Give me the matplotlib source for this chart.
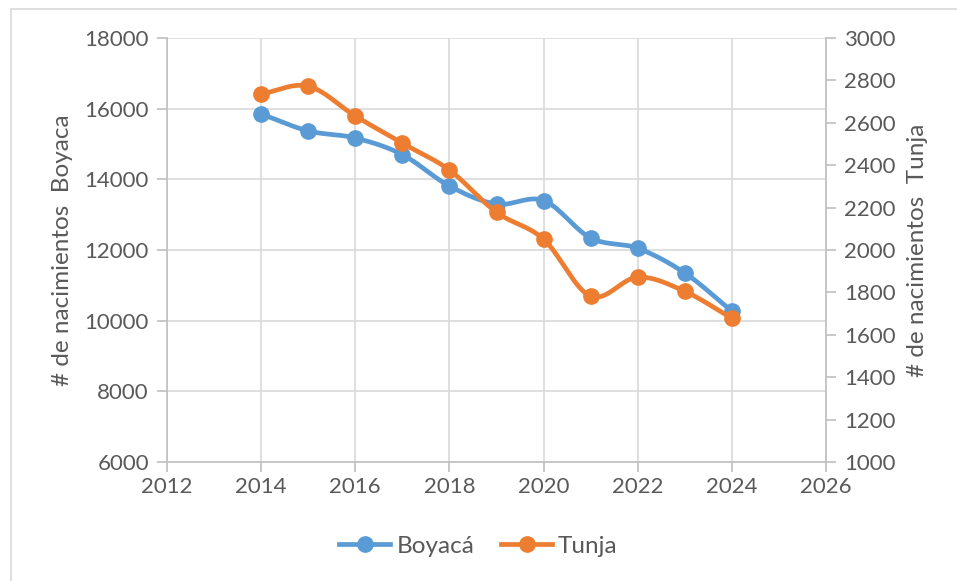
import numpy as np
import matplotlib.pyplot as plt
from matplotlib.lines import Line2D
from matplotlib.patches import Rectangle

years = [2014, 2015, 2016, 2017, 2018, 2019, 2020, 2021, 2022, 2023, 2024]
boyaca = [15850, 15370, 15170, 14700, 13810, 13300, 13400, 12340, 12050, 11350, 10270]
tunja = [2736, 2773, 2632, 2504, 2377, 2178, 2051, 1782, 1872, 1805, 1678]

blue = '#5b9bd5'
orange = '#ed7d31'
grey = '#595959'
axc = '#bfbfbf'
gridc = '#d9d9d9'

plt.rcParams['font.family'] = ['Lato', 'DejaVu Sans']
fs = 16
lfs = 17.5


def smooth(x, y, n=20):
    # Catmull-Rom style smoothing, similar to Excel's smoothed line
    x = np.asarray(x, float)
    y = np.asarray(y, float)
    px = np.concatenate([[2 * x[0] - x[1]], x, [2 * x[-1] - x[-2]]])
    py = np.concatenate([[2 * y[0] - y[1]], y, [2 * y[-1] - y[-2]]])
    t = np.linspace(0, 1, n)
    xs, ys = [], []
    for i in range(1, len(px) - 2):
        for p, out in ((px, xs), (py, ys)):
            p0, p1, p2, p3 = p[i - 1], p[i], p[i + 1], p[i + 2]
            b1 = p1 + (p2 - p0) / 6
            b2 = p2 - (p3 - p1) / 6
            out.extend((1 - t) ** 3 * p1 + 3 * (1 - t) ** 2 * t * b1
                       + 3 * (1 - t) * t ** 2 * b2 + t ** 3 * p2)
    return np.array(xs), np.array(ys)


fig = plt.figure(figsize=(9.57, 5.81), dpi=100)
ax = fig.add_axes([167 / 957, 1 - 462 / 581, (826 - 167) / 957, (462 - 38) / 581])
ax2 = ax.twinx()

ax.set_xlim(2012, 2026)
ax.set_ylim(6000, 18000)
ax2.set_ylim(1000, 3000)
ax.set_xticks(range(2012, 2027, 2))
ax.set_yticks(range(6000, 18001, 2000))
ax2.set_yticks(range(1000, 3001, 200))

ax.grid(True, color=gridc, lw=1.2)
ax.set_axisbelow(True)

for a in (ax, ax2):
    a.spines['top'].set_visible(False)
    for s in ('left', 'right', 'bottom'):
        a.spines[s].set_color(axc)
        a.spines[s].set_linewidth(1.2)
    a.tick_params(colors=axc, labelcolor=grey, labelsize=fs, length=7, width=1.2)
ax.spines['right'].set_visible(False)
ax2.spines['left'].set_visible(False)
ax2.spines['bottom'].set_visible(False)
ax.tick_params(axis='x', pad=4)
ax.tick_params(axis='y', pad=6)
ax2.tick_params(axis='y', pad=6)

sx, sy = smooth(years, boyaca)
ax.plot(sx, sy, color=blue, lw=3.4, solid_capstyle='round', zorder=3)
ax.plot(years, boyaca, 'o', color=blue, ms=11, zorder=3)

tx, ty = smooth(years, tunja)
ax2.plot(tx, ty, color=orange, lw=3.4, solid_capstyle='round', zorder=3)
ax2.plot(years, tunja, 'o', color=orange, ms=11, zorder=3)

ax.set_ylabel('# de nacimientos  Boyaca', fontsize=lfs, color=grey, labelpad=8)
ax2.set_ylabel('# de nacimientos  Tunja', fontsize=lfs, color=grey, labelpad=8)

handles = [Line2D([], [], color=blue, lw=3.4, marker='o', ms=11),
           Line2D([], [], color=orange, lw=3.4, marker='o', ms=11)]
fig.legend(handles, ['Boyacá', 'Tunja'], loc='center', bbox_to_anchor=(0.5, 1 - 546 / 581),
           ncol=2, frameon=False, fontsize=lfs, labelcolor=grey, handlelength=2.1,
           columnspacing=1.1, handletextpad=0.25)

fig.patches.append(Rectangle((11 / 957, -0.1), 2, 1 - 9 / 581 + 0.1, transform=fig.transFigure,
                             fill=False, edgecolor=gridc, lw=1.2))

fig.savefig('out.png', dpi=100)
